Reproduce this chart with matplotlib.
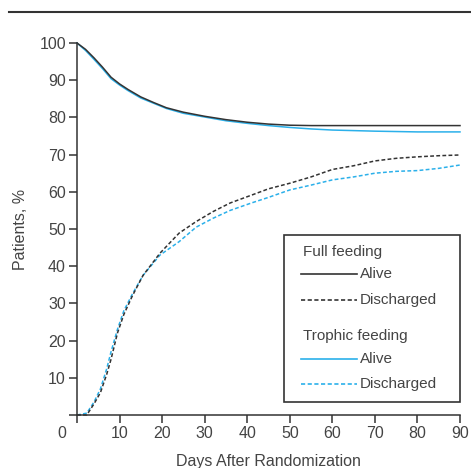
import matplotlib.pyplot as plt
from matplotlib.lines import Line2D
from matplotlib.patches import Rectangle

plt.rcParams['font.family'] = ['Liberation Sans', 'DejaVu Sans']

# values (days, % of patients)
alive_full_days = [0, 2, 4, 6, 8, 10, 12, 15, 18, 21, 25, 30, 35, 40, 45, 50, 55, 60, 90]
alive_full = [100, 98.3, 96, 93.5, 90.8, 89, 87.5, 85.5, 84, 82.6, 81.4, 80.3, 79.4,
              78.7, 78.2, 77.9, 77.8, 77.8, 77.8]
alive_troph_days = [0, 2, 4, 6, 8, 10, 12, 15, 18, 21, 25, 30, 35, 40, 45, 50, 55, 60, 70, 80, 90]
alive_troph = [100, 98, 95.6, 93.1, 90.4, 88.7, 87.2, 85.2, 83.8, 82.4, 81.1, 80.1, 79.1,
               78.4, 77.8, 77.3, 76.9, 76.6, 76.3, 76.1, 76.1]

disch_days = [0, 2.3, 4, 5.5, 7, 8, 9.5, 11, 13, 15.5, 19.5, 24, 28, 32, 36, 41, 45,
              50, 55, 60, 65, 70, 75, 80, 85, 90]
disch_full = [0, 0, 3, 6, 11, 15, 22, 27, 32, 37.5, 43.5, 48.9, 52, 54.7, 57, 59.1,
              60.8, 62.3, 64, 66, 67, 68.3, 69, 69.4, 69.7, 69.9]
disch_troph = [0, 0.5, 3.5, 7, 12.5, 17, 23, 28, 32.5, 37.5, 43, 46.6, 50.5, 52.9, 55,
               57, 58.5, 60.5, 61.8, 63.2, 64, 65, 65.5, 65.7, 66.3, 67.2]

x_ticks = [0, 10, 20, 30, 40, 50, 60, 70, 80, 90]
y_ticks = [0, 10, 20, 30, 40, 50, 60, 70, 80, 90, 100]

black = '#333333'
blue = '#2bb0ea'
txt = '#444444'

fig = plt.figure(figsize=(4.71, 4.68), dpi=100)
ax = fig.add_axes([77 / 471, 53 / 468, 383 / 471, 372 / 468])

ax.plot(alive_troph_days, alive_troph, color=blue, lw=1.1, clip_on=False)
ax.plot(alive_full_days, alive_full, color=black, lw=1.1, clip_on=False)
ax.plot(disch_days, disch_troph, color=blue, lw=1.1, dashes=(2.5, 1.5), clip_on=False)
ax.plot(disch_days, disch_full, color=black, lw=1.1, dashes=(2.5, 1.5), clip_on=False)

ax.set_xlim(0, 90)
ax.set_ylim(0, 100)
ax.set_xticks(x_ticks)
ax.set_xticklabels([''] + [str(t) for t in x_ticks[1:]])
ax.set_yticks(y_ticks)
ax.set_yticklabels([''] + [str(t) for t in y_ticks[1:]])
ax.annotate('0', xy=(0, 0), xytext=(-15, -19), textcoords='offset pixels',
            ha='center', va='center', fontsize=11.5, color=txt)

for s in ['top', 'right']:
    ax.spines[s].set_visible(False)
for s in ['left', 'bottom']:
    ax.spines[s].set_color(black)
    ax.spines[s].set_linewidth(1.1)
ax.tick_params(axis='both', direction='out', length=5.5, width=1.1, color=black,
               labelsize=11.5, labelcolor=txt, pad=2.5)

ax.set_xlabel('Days After Randomization', fontsize=11.5, color=txt, labelpad=9)
ax.set_ylabel('Patients, %', fontsize=11.5, color=txt, labelpad=8)

# legend box drawn by hand (grouped headings)
ax.add_patch(Rectangle((0.5405, 0.035), 0.4595, 0.449, transform=ax.transAxes,
                       fill=False, edgecolor=black, lw=1.2, clip_on=False))
lx0, lx1, tx = 0.585, 0.731, 0.739
rows = [
    ('Full feeding', None, None, 0.438),
    ('Alive', black, '-', 0.379),
    ('Discharged', black, '--', 0.309),
    ('Trophic feeding', None, None, 0.212),
    ('Alive', blue, '-', 0.1505),
    ('Discharged', blue, '--', 0.0833),
]
for label, col, ls, y in rows:
    if col is None:
        ax.text(lx0 + 0.005, y, label, transform=ax.transAxes, fontsize=11,
                color=txt, va='center', ha='left')
    else:
        ln = Line2D([lx0, lx1], [y, y], transform=ax.transAxes, color=col, lw=1.2)
        if ls == '--':
            ln.set_dashes((2.5, 1.5))
        ax.add_line(ln)
        ax.text(tx, y, label, transform=ax.transAxes, fontsize=11, color=txt,
                va='center', ha='left')

fig.add_artist(Line2D([9 / 471, 1], [1 - 12 / 468, 1 - 12 / 468], color='#333333', lw=1.5))

fig.savefig('out.png', dpi=100)
